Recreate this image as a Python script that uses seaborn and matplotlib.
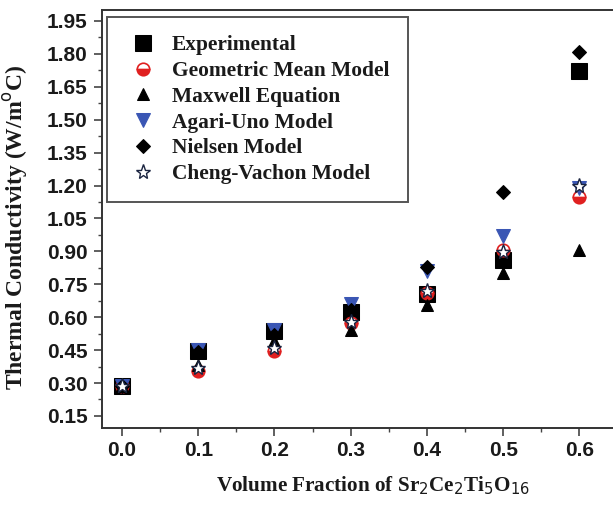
import matplotlib
matplotlib.use("Agg")
import matplotlib.pyplot as plt
from matplotlib.ticker import MultipleLocator, FormatStrFormatter
import seaborn as sns

# volume fraction of filler
fraction = [0.0, 0.1, 0.2, 0.3, 0.4, 0.5, 0.6]

# thermal conductivity (W/m C)
experimental = [0.285, 0.445, 0.535, 0.625, 0.705, 0.86, 1.72]
geometric = [0.285, 0.355, 0.445, 0.575, 0.71, 0.905, 1.15]
maxwell = [0.285, 0.38, 0.49, 0.54, 0.655, 0.80, 0.905]
agari_uno = [0.285, 0.45, 0.54, 0.66, 0.81, 0.97, 1.19]
nielsen = [0.285, 0.44, 0.52, 0.635, 0.83, 1.17, 1.81]
cheng_vachon = [0.285, 0.37, 0.46, 0.58, 0.72, 0.895, 1.20]

sns.set_theme(style="white")
plt.rcParams["font.family"] = ["Liberation Sans", "DejaVu Sans"]

fig = plt.figure(figsize=(6.13, 5.13), dpi=100)
# axes run past the right edge of the picture, as in the cropped original
ax = fig.add_axes([102 / 613, 85 / 513, 543 / 613, 418 / 513])

series = [
    ("Experimental", experimental, dict(marker="s", color="black", markersize=11, mec="black")),
    ("Geometric Mean Model", geometric, dict(marker="o", color="#e02020", markersize=9,
                                              mec="#e02020", fillstyle="bottom",
                                              markerfacecoloralt="white", mew=1.2)),
    ("Maxwell Equation", maxwell, dict(marker="^", color="black", markersize=9, mec="black")),
    ("Agari-Uno Model", agari_uno, dict(marker="v", color="#3a56b4", markersize=10, mec="#3a56b4")),
    ("Nielsen Model", nielsen, dict(marker="D", color="black", markersize=7, mec="black")),
    ("Cheng-Vachon Model", cheng_vachon, dict(marker="*", color="white", markersize=11,
                                              mec="#1a2440", mew=1.0)),
]

for name, vals, style in series:
    sns.lineplot(x=fraction, y=vals, ax=ax, linestyle="", label=name, **style)

ax.set_xlim(-0.0262, 0.686)
ax.set_ylim(0.095, 2.0)
ax.xaxis.set_major_locator(MultipleLocator(0.1))
ax.xaxis.set_minor_locator(MultipleLocator(0.05))
ax.yaxis.set_major_locator(MultipleLocator(0.15))
ax.yaxis.set_minor_locator(MultipleLocator(0.075))
ax.xaxis.set_major_formatter(FormatStrFormatter("%.1f"))
ax.yaxis.set_major_formatter(FormatStrFormatter("%.2f"))
ax.tick_params(which="both", direction="out", color="#444444")
ax.tick_params(which="major", length=5.5, width=1.2, labelsize=15)
ax.tick_params(which="minor", length=3, width=1.0)
ax.tick_params(axis="x", bottom=True, which="both", pad=4)
ax.tick_params(axis="y", left=True, which="both", pad=5)
for lab in ax.get_xticklabels() + ax.get_yticklabels():
    lab.set_fontweight("bold")
    lab.set_color("#1a1a1a")

for side in ["left", "bottom", "top"]:
    ax.spines[side].set_color("#333333")
    ax.spines[side].set_linewidth(1.4)
ax.spines["right"].set_visible(False)

serif = ["Liberation Serif", "DejaVu Serif"]
ax.set_xlabel("Volume Fraction of Sr$_2$Ce$_2$Ti$_5$O$_{16}$", family=serif,
              fontweight="bold", fontsize=15.2, color="#1a1a1a")
ax.set_ylabel("Thermal Conductivity (W/m$^{\\mathrm{o}}$C)", family=serif,
              fontweight="bold", fontsize=17, color="#1a1a1a")
ax.xaxis.set_label_coords(0.5, -0.112)
ax.yaxis.set_label_coords(-0.132, 0.481)

leg = ax.legend(loc="upper left", bbox_to_anchor=(0.009, 0.983), frameon=True,
                fancybox=False, edgecolor="#555555", framealpha=1,
                prop=dict(family=serif, weight="bold", size=15.4),
                handlelength=1.7, handletextpad=0.5, labelspacing=0.27,
                borderpad=0.85, borderaxespad=0)
leg.get_frame().set_linewidth(1.4)
for t in leg.get_texts():
    t.set_color("#1a1a1a")

fig.savefig("out.png", dpi=100)
